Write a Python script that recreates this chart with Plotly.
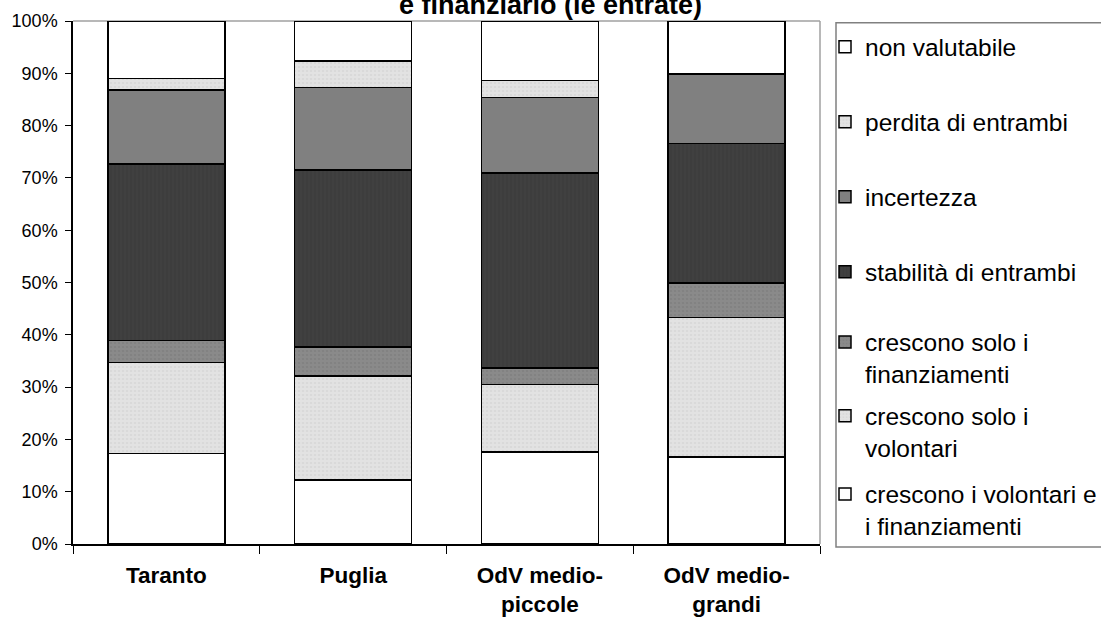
import plotly.graph_objects as go

categories = ["Taranto", "Puglia", "OdV medio-<br>piccole", "OdV medio-<br>grandi"]

series_names = [
    "crescono i volontari e<br>i finanziamenti",
    "crescono solo i<br>volontari",
    "crescono solo i<br>finanziamenti",
    "stabilità di entrambi",
    "incertezza",
    "perdita di entrambi",
    "non valutabile",
]

crescono_entrambi = [17.3, 12.2, 17.6, 16.6]
crescono_volontari = [17.4, 19.9, 12.9, 26.7]
crescono_finanziamenti = [4.2, 5.6, 3.2, 6.6]
stabilita = [33.8, 33.8, 37.2, 26.7]
incertezza = [14.1, 15.8, 14.5, 13.3]
perdita = [2.2, 5.1, 3.2, 0.0]
non_valutabile = [11.0, 7.6, 11.4, 10.1]

series_values = [crescono_entrambi, crescono_volontari, crescono_finanziamenti,
                 stabilita, incertezza, perdita, non_valutabile]

y_ticks = list(range(0, 101, 10))
y_tick_labels = [f"{v}%" for v in y_ticks]

styles = [
    dict(color="#ffffff", pattern=None),
    dict(color="#e2e2e2", pattern=dict(shape=".", fgcolor="#cfcfcf", size=4, solidity=0.3)),
    dict(color="#8a8a8a", pattern=dict(shape=".", fgcolor="#7a7a7a", size=4, solidity=0.3)),
    dict(color="#404040", pattern=dict(shape="|", fgcolor="#353535", size=4, solidity=0.3)),
    dict(color="#808080", pattern=None),
    dict(color="#e2e2e2", pattern=dict(shape=".", fgcolor="#cfcfcf", size=4, solidity=0.3)),
    dict(color="#ffffff", pattern=None),
]

# plot geometry (pixels)
W, H = 1101, 619
L, R, T, B = 73, 281, 21, 75
PW = W - L - R
PH = H - T - B
legend_centers = [510, 431.7, 358, 271.7, 196.7, 121.7, 46.7]
legend_left_px = 825

FONT = "Liberation Sans, Arial, sans-serif"

fig = go.Figure()
for i, (name, vals, st) in enumerate(zip(series_names, series_values, styles)):
    marker = dict(color=st["color"], line=dict(color="#000000", width=1.5))
    if st["pattern"] is not None:
        marker["pattern"] = dict(bgcolor=st["color"], **st["pattern"])
    fig.add_trace(go.Bar(
        x=categories, y=vals, name=name, marker=marker,
        legend="legend" if i == 0 else f"legend{i+1}",
        hoverinfo="x+y+name",
    ))

layout_legends = {}
for i, cy in enumerate(legend_centers):
    key = "legend" if i == 0 else f"legend{i+1}"
    layout_legends[key] = dict(
        x=(legend_left_px - L) / PW, xref="paper", xanchor="left",
        y=(H - B - cy) / PH, yref="paper", yanchor="middle",
        bgcolor="rgba(0,0,0,0)", borderwidth=0,
        font=dict(family=FONT, size=24.5, color="#000000"),
        valign="top", itemclick=False, itemdoubleclick=False,
    )

fig.update_layout(
    width=W, height=H,
    margin=dict(l=L, r=R, t=T, b=B, pad=0, autoexpand=False),
    barmode="stack", bargap=0.373,
    paper_bgcolor="#ffffff", plot_bgcolor="#ffffff",
    font=dict(family=FONT, color="#000000"),
    showlegend=True,
    **layout_legends,
)

fig.update_xaxes(
    type="category", showline=True, linecolor="#000000", linewidth=1.5,
    ticks="outside", tickson="boundaries", ticklen=8, tickcolor="#000000", tickwidth=1,
    tickfont=dict(family=FONT, size=22.5, color="#000000", weight="bold"),
    ticklabelstandoff=10, automargin=False,
    showgrid=False, zeroline=False,
)
fig.update_yaxes(
    range=[0, 100], tickvals=y_ticks, ticktext=y_tick_labels,
    showline=True, linecolor="#000000", linewidth=1.5,
    ticks="outside", ticklen=6, tickcolor="#000000", tickwidth=1,
    tickfont=dict(family=FONT, size=18, color="#000000"),
    ticklabelstandoff=4, automargin=False,
    showgrid=False, zeroline=False,
)

# plot area border (top and right, gray)
fig.add_shape(type="line", xref="paper", yref="paper", x0=0, x1=1, y0=1, y1=1,
              line=dict(color="#a0a0a0", width=1.5), layer="below")
fig.add_shape(type="line", xref="paper", yref="paper", x0=1, x1=1, y0=0, y1=1,
              line=dict(color="#a0a0a0", width=1.5), layer="below")
# legend frame
fig.add_shape(type="rect", xref="paper", yref="paper",
              x0=(836 - L) / PW, x1=(W + 5 - L) / PW,
              y0=(H - B - 547) / PH, y1=(H - B - 22.7) / PH,
              line=dict(color="#808080", width=1.5), fillcolor="rgba(0,0,0,0)", layer="below")

# title (only its last line visible in the reference)
fig.add_annotation(
    text="<b>e finanziario (le entrate)</b>", xref="paper", yref="paper",
    x=(550 - L) / PW, y=(H - B - 22) / PH, xanchor="center", yanchor="bottom",
    showarrow=False, font=dict(family=FONT, size=27, color="#000000"),
)

fig.write_html("out.html", config={"displayModeBar": False},
               post_script="document.body.style.margin='0';")
